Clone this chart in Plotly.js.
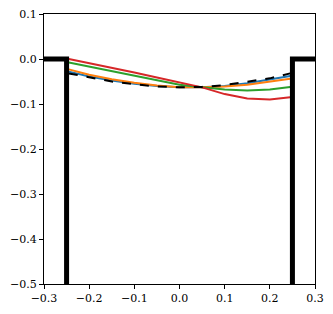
<!DOCTYPE html>
<html>
<head>
<script src="https://cdn.plot.ly/plotly-3.0.1.min.js"></script>
<style>body{margin:0}</style>
</head>
<body>
<div id="chart" style="width:333px;height:314px"></div>
<script>
var xs = [-0.245, -0.2, -0.15, -0.1, -0.05, 0, 0.05, 0.1, 0.15, 0.2, 0.245];
var blueY = [-0.028, -0.039, -0.048, -0.055, -0.060, -0.063, -0.063, -0.060, -0.054, -0.046, -0.038];
var orangeY = [-0.023, -0.035, -0.045, -0.053, -0.059, -0.063, -0.063, -0.061, -0.057, -0.051, -0.044];
var greenY = [-0.008, -0.017, -0.027, -0.038, -0.048, -0.057, -0.063, -0.068, -0.070, -0.068, -0.062];
var redY = [0.0, -0.009, -0.019, -0.030, -0.041, -0.052, -0.063, -0.078, -0.088, -0.090, -0.085];
var refY = [-0.032, -0.041, -0.050, -0.056, -0.061, -0.063, -0.062, -0.058, -0.051, -0.043, -0.032];

var wallLeftX = [-0.3, -0.25, -0.25];
var wallRightX = [0.3, 0.25, 0.25];
var wallY = [0, 0, -0.6];

var traces = [
  {x: xs, y: blueY, mode: "lines", line: {color: "#1f77b4", width: 2}},
  {x: xs, y: orangeY, mode: "lines", line: {color: "#ff7f0e", width: 2}},
  {x: xs, y: greenY, mode: "lines", line: {color: "#2ca02c", width: 2}},
  {x: xs, y: redY, mode: "lines", line: {color: "#d62728", width: 2}},
  {x: xs, y: refY, mode: "lines", line: {color: "black", width: 2, dash: "dash"}},
  {x: wallLeftX, y: wallY, mode: "lines", line: {color: "black", width: 5}},
  {x: wallRightX, y: wallY, mode: "lines", line: {color: "black", width: 5}}
];

var axisStyle = {
  showgrid: false, zeroline: false, showline: true, mirror: true,
  linecolor: "black", linewidth: 1, ticks: "outside", ticklen: 4,
  tickcolor: "black", tickformat: ".1f"
};

var layout = {
  width: 333, height: 314,
  margin: {l: 44, r: 18, t: 14, b: 30},
  showlegend: false,
  plot_bgcolor: "white", paper_bgcolor: "white",
  font: {family: "DejaVu Serif", size: 11, color: "black"},
  xaxis: Object.assign({range: [-0.3, 0.3], dtick: 0.1, tick0: 0}, axisStyle),
  yaxis: Object.assign({range: [-0.5, 0.1], dtick: 0.1, tick0: 0}, axisStyle)
};

Plotly.newPlot("chart", traces, layout, {staticPlot: true});
</script>
</body>
</html>
